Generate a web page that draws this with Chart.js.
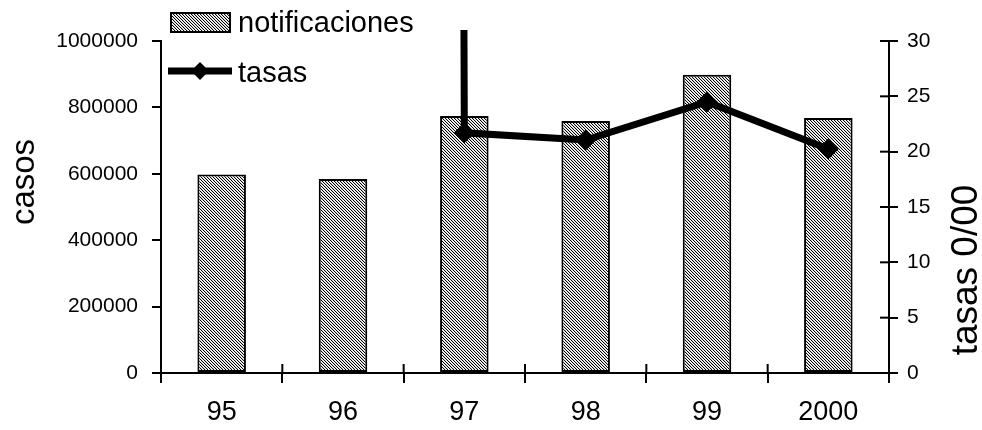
<!DOCTYPE html>
<html>
<head>
<meta charset="utf-8">
<script src="https://cdn.jsdelivr.net/npm/chart.js@4"></script>
<style>
  html, body { margin: 0; padding: 0; background: #fff; }
  #wrap { width: 982px; height: 430px; position: relative; }
</style>
</head>
<body>
<div id="wrap"><canvas id="c" width="982" height="430"></canvas></div>
<script>
// Años notificados
const years = ['95', '96', '97', '98', '99', '2000'];
// Casos notificados por año
const notificaciones = [598000, 584000, 774000, 759000, 898000, 768000];
// Tasas por 10 000 (el valor de 96 queda fuera de escala)
const tasas = [null, 3000, 21.7, 21.05, 24.5, 20.25];
// Rangos de los ejes: [mínimo, máximo, paso]
const casosRange = [0, 1000000, 200000];
const tasasRange = [0, 30, 5];

const FONT = "'Liberation Sans', Arial, sans-serif";
const canvas = document.getElementById('c');
const ctx = canvas.getContext('2d');

// Trama punteada diagonal de las barras
function makeHatch(context) {
  const t = document.createElement('canvas');
  t.width = 3; t.height = 3;
  const g = t.getContext('2d');
  const shades = ['#000000', '#d4d4d4', '#ffffff'];
  for (let y = 0; y < 3; y++) {
    for (let x = 0; x < 3; x++) {
      g.fillStyle = shades[(((x - y) % 3) + 3) % 3];
      g.fillRect(x, y, 1, 1);
    }
  }
  return context.createPattern(t, 'repeat');
}
const hatch = makeHatch(ctx);

// Marcas cortas hacia dentro del área del gráfico (eje X y eje derecho)
const innerTicks = {
  id: 'innerTicks',
  afterDraw(chart) {
    const c = chart.ctx;
    const area = chart.chartArea;
    c.save();
    c.strokeStyle = '#000';
    c.lineWidth = 2;
    const x = chart.scales.x;
    const n = x.ticks.length;
    for (let i = 0; i <= n; i++) {
      const px = x.getPixelForValue(i - 0.5);
      c.beginPath();
      c.moveTo(px, area.bottom);
      c.lineTo(px, area.bottom - 9);
      c.stroke();
    }
    const yr = chart.scales.yR;
    yr.ticks.forEach((t) => {
      const py = yr.getPixelForValue(t.value);
      c.beginPath();
      c.moveTo(area.right, py);
      c.lineTo(area.right - 9, py);
      c.stroke();
    });
    c.restore();
  }
};

// Títulos de los ejes verticales
function drawVertical(c, text, cx, cy, size) {
  c.save();
  c.fillStyle = '#000';
  c.font = size + 'px ' + FONT;
  c.textAlign = 'center';
  c.textBaseline = 'middle';
  c.translate(cx, cy);
  c.rotate(-Math.PI / 2);
  c.fillText(text, 0, 0);
  c.restore();
}
const axisTitles = {
  id: 'axisTitles',
  afterDraw(chart) {
    drawVertical(chart.ctx, 'casos', 25, 182, 33);
    drawVertical(chart.ctx, 'tasas 0/00', 967, 270, 37);
  }
};

// Leyenda superpuesta en la parte superior izquierda
const overlayLegend = {
  id: 'overlayLegend',
  afterDraw(chart) {
    const c = chart.ctx;
    const dsBar = chart.data.datasets[1];
    const dsLine = chart.data.datasets[0];
    c.save();
    // Muestra de barra
    c.fillStyle = dsBar.backgroundColor;
    c.fillRect(171, 13, 59, 19);
    c.strokeStyle = '#000';
    c.lineWidth = 2;
    c.strokeRect(171, 13, 59, 19);
    // Muestra de línea con rombo
    c.strokeStyle = dsLine.borderColor;
    c.lineWidth = dsLine.borderWidth;
    c.beginPath();
    c.moveTo(168, 71);
    c.lineTo(232, 71);
    c.stroke();
    c.fillStyle = dsLine.pointBackgroundColor;
    c.beginPath();
    c.moveTo(200, 71 - 9);
    c.lineTo(200 + 9, 71);
    c.lineTo(200, 71 + 9);
    c.lineTo(200 - 9, 71);
    c.closePath();
    c.fill();
    // Textos
    c.fillStyle = '#000';
    c.font = '29px ' + FONT;
    c.textAlign = 'left';
    c.textBaseline = 'alphabetic';
    c.fillText(dsBar.label, 238, 32);
    c.fillText(dsLine.label, 238, 82);
    c.restore();
  }
};

new Chart(canvas, {
  data: {
    labels: years,
    datasets: [
      {
        type: 'line',
        label: 'tasas',
        data: tasas,
        yAxisID: 'yR',
        borderColor: '#000',
        borderWidth: 7,
        pointStyle: 'rectRot',
        pointRadius: 10,
        pointBackgroundColor: '#000',
        pointBorderColor: '#000',
        pointBorderWidth: 1,
        tension: 0,
        clip: { left: 0, top: 11, right: 0, bottom: 0 },
        order: 0
      },
      {
        type: 'bar',
        label: 'notificaciones',
        data: notificaciones,
        yAxisID: 'yL',
        backgroundColor: hatch,
        borderColor: '#000',
        borderWidth: 2,
        borderSkipped: false,
        categoryPercentage: 1,
        barPercentage: 0.4,
        order: 1
      }
    ]
  },
  options: {
    responsive: false,
    devicePixelRatio: 1,
    animation: false,
    layout: { padding: { top: 41, left: 0, right: 0, bottom: 0 } },
    plugins: {
      legend: { display: false },
      tooltip: { enabled: false },
      title: { display: false }
    },
    scales: {
      x: {
        type: 'category',
        offset: true,
        grid: { offset: true, drawOnChartArea: false, color: '#000', lineWidth: 2, tickLength: 10, tickColor: '#000' },
        border: { color: '#000', width: 2 },
        ticks: { color: '#000', font: { family: FONT, size: 27 }, padding: 13, maxRotation: 0 },
        afterFit(s) { s.height = 57; }
      },
      yL: {
        position: 'left',
        min: casosRange[0],
        max: casosRange[1],
        grid: { drawOnChartArea: false, color: '#000', lineWidth: 2, tickLength: 9, tickColor: '#000' },
        border: { color: '#000', width: 2 },
        ticks: { stepSize: casosRange[2], color: '#000', font: { family: FONT, size: 21 }, padding: 14, callback: (v) => String(v) },
        afterFit(s) { s.width = 161; }
      },
      yR: {
        position: 'right',
        min: tasasRange[0],
        max: tasasRange[1],
        grid: { drawOnChartArea: false, color: '#000', lineWidth: 2, tickLength: 9, tickColor: '#000' },
        border: { color: '#000', width: 2 },
        ticks: { stepSize: tasasRange[2], color: '#000', font: { family: FONT, size: 21 }, padding: 9, callback: (v) => String(v) },
        afterFit(s) { s.width = 93; }
      }
    }
  },
  plugins: [innerTicks, axisTitles, overlayLegend]
});
</script>
</body>
</html>
